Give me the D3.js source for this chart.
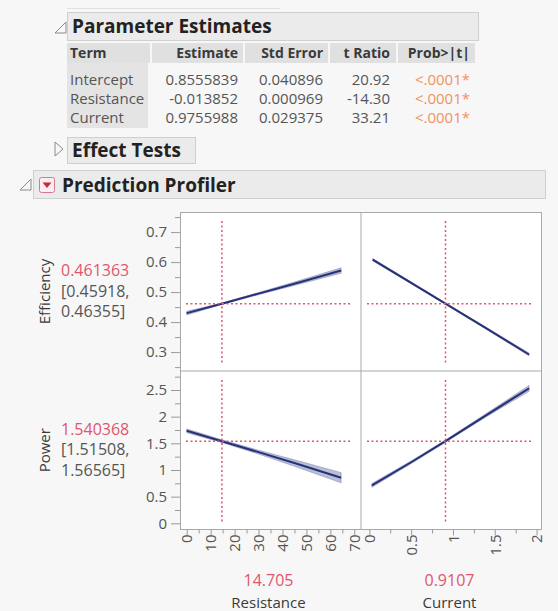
<!DOCTYPE html>
<html>
<head>
<meta charset="utf-8">
<script src="https://cdn.jsdelivr.net/npm/d3@7"></script>
<style>
  body { margin: 0; background: #f7f7f7; }
  svg { display: block; font-family: "Open Sans", "Noto Sans", sans-serif; }
</style>
</head>
<body>
<svg id="chart" width="558" height="611"></svg>
<script>
// ---- Parameter Estimates table ----
const tableHeaders = ["Term", "Estimate", "Std Error", "t Ratio", "Prob>|t|"];
const terms = ["Intercept", "Resistance", "Current"];
const estimates = ["0.8555839", "-0.013852", "0.9755988"];
const stdErrors = ["0.040896", "0.000969", "0.029375"];
const tRatios = ["20.92", "-14.30", "33.21"];
const probs = ["<.0001*", "<.0001*", "<.0001*"];

// ---- Prediction Profiler ----
const factors = ["Resistance", "Current"];
const factorSettings = [14.705, 0.9107];
const factorDomains = [[-2.8, 72.8], [-0.1, 2.065]];
const factorTicks = [[0, 10, 20, 30, 40, 50, 60, 70], [0, 0.5, 1, 1.5, 2]];
const factorMinorTicks = [[5, 15, 25, 35, 45, 55, 65], [0.25, 0.75, 1.25, 1.75]];

const responses = ["Efficiency", "Power"];
const predicted = ["0.461363", "1.540368"];
const ciLower = ["[0.45918,", "[1.51508,"];
const ciUpper = ["0.46355]", "1.56565]"];
const responseDomains = [[0.237, 0.767], [-0.116, 2.856]];
const responseTicks = [[0.3, 0.4, 0.5, 0.6, 0.7], [0, 0.5, 1, 1.5, 2, 2.5]];
const responseTickLabels = [["0.3", "0.4", "0.5", "0.6", "0.7"], ["0", "0.5", "1", "1.5", "2", "2.5"]];
const responseMinorTicks = [[0.25, 0.35, 0.45, 0.55, 0.65, 0.75],
                            [0.25, 0.75, 1.25, 1.75, 2.25, 2.75]];

// profile traces: [factor value, predicted response, confidence half-width]
const effVsResistance = [[0, 0.430, 0.006], [14.705, 0.4614, 0.0022], [30, 0.495, 0.0035], [45, 0.528, 0.0055], [64.5, 0.572, 0.009]];
const effVsCurrent = [[0.04, 0.608, 0.004], [0.5, 0.531, 0.003], [0.9107, 0.4614, 0.0022], [1.4, 0.379, 0.003], [1.91, 0.292, 0.0045]];
const powVsResistance = [[0, 1.735, 0.035], [14.705, 1.540, 0.025], [30, 1.335, 0.035], [45, 1.13, 0.06], [64.5, 0.855, 0.095]];
const powVsCurrent = [[0.03, 0.71, 0.035], [0.5, 1.145, 0.025], [0.9107, 1.540, 0.02], [1.4, 2.03, 0.03], [1.91, 2.53, 0.055]];
const traces = [[effVsResistance, effVsCurrent], [powVsResistance, powVsCurrent]];

const svg = d3.select("#chart");
const textDark = "#3a3a3a", textGrey = "#555", red = "#e0566c", orange = "#f0935f";

// disclosure icons
function openIcon(x, y) {
  svg.append("path").attr("d", `M${x + 11},${y} L${x + 11},${y + 11} L${x},${y + 11} Z`)
    .attr("fill", "none").attr("stroke", "#8a8a8a").attr("stroke-width", 1);
}
function closedIcon(x, y) {
  svg.append("path").attr("d", `M${x},${y} L${x + 8},${y + 7} L${x},${y + 14} Z`)
    .attr("fill", "none").attr("stroke", "#8a8a8a").attr("stroke-width", 1);
}
function outlineBar(x0, x1, y0, y1) {
  svg.append("rect").attr("x", x0 + 0.5).attr("y", y0 + 0.5).attr("width", x1 - x0).attr("height", y1 - y0)
    .attr("fill", "#ebebeb").attr("stroke", "#cfcfcf");
}

// faint rule at the very top
svg.append("line").attr("x1", 67).attr("x2", 280).attr("y1", 8.5).attr("y2", 8.5).attr("stroke", "#e2e2e2");

// Parameter Estimates header
openIcon(55, 22);
outlineBar(67, 478, 12, 40);
svg.append("text").attr("x", 72).attr("y", 26).attr("dy", "0.35em")
  .attr("font-size", 19).attr("font-weight", 700).attr("fill", "#222").text("Parameter Estimates");

// table
const colCells = [[67, 150], [152, 243], [245, 328], [330, 396], [398, 475]];
const colText = [{x: 70, anchor: "start"}, {x: 238, anchor: "end"}, {x: 323, anchor: "end"},
                 {x: 390, anchor: "end"}, {x: 470, anchor: "end"}];
const headerY = 53, rowY = [80, 99, 118];

svg.append("rect").attr("x", 67).attr("y", 63).attr("width", 81).attr("height", 65).attr("fill", "#e4e4e4");
svg.selectAll("rect.hcell").data(colCells).join("rect").attr("class", "hcell")
  .attr("x", d => d[0]).attr("y", 43).attr("width", d => d[1] - d[0]).attr("height", 20).attr("fill", "#e0e0e0");
svg.selectAll("text.hdr").data(tableHeaders).join("text").attr("class", "hdr")
  .attr("x", (d, i) => colText[i].x).attr("y", headerY).attr("dy", "0.35em")
  .attr("text-anchor", (d, i) => colText[i].anchor)
  .attr("font-size", 14).attr("font-weight", 700).attr("fill", textDark).text(d => d);

const columns = [terms, estimates, stdErrors, tRatios, probs];
columns.forEach((col, ci) => {
  svg.selectAll(null).data(col).join("text")
    .attr("x", colText[ci].x).attr("y", (d, i) => rowY[i]).attr("dy", "0.35em")
    .attr("text-anchor", colText[ci].anchor)
    .attr("font-size", 15).attr("fill", ci === 4 ? orange : textGrey).text(d => d);
});

// Effect Tests header
closedIcon(55, 142);
outlineBar(67, 195, 137, 163);
svg.append("text").attr("x", 72).attr("y", 150).attr("dy", "0.35em")
  .attr("font-size", 19).attr("font-weight", 700).attr("fill", "#222").text("Effect Tests");

// Prediction Profiler header
openIcon(20, 179);
outlineBar(33, 545, 170, 198);
svg.append("rect").attr("x", 39.5).attr("y", 177.5).attr("width", 15).attr("height", 15).attr("rx", 2)
  .attr("fill", "#fbeef0").attr("stroke", "#d9788a");
svg.append("path").attr("d", "M42.5,182.5 L51.5,182.5 L47,188 Z").attr("fill", "#c8283e");
svg.append("text").attr("x", 62).attr("y", 185).attr("dy", "0.35em")
  .attr("font-size", 19).attr("font-weight", 700).attr("fill", "#222").text("Prediction Profiler");

// ---- profiler grid ----
const colX = [[180, 361], [361, 542]];
const rowYr = [[212, 371], [371, 529.5]];
const xScales = factors.map((f, i) => d3.scaleLinear().domain(factorDomains[i]).range(colX[i]));
const yScales = responses.map((r, i) => d3.scaleLinear().domain(responseDomains[i]).range([rowYr[i][1], rowYr[i][0]]));

for (let r = 0; r < 2; r++) {
  for (let c = 0; c < 2; c++) {
    const xs = xScales[c], ys = yScales[r];
    const [x0, x1] = colX[c], [y0, y1] = rowYr[r];
    const g = svg.append("g");
    g.append("rect").attr("x", x0).attr("y", y0).attr("width", x1 - x0).attr("height", y1 - y0).attr("fill", "#fff");

    // confidence band + prediction trace
    const tr = traces[r][c];
    g.append("path").datum(tr)
      .attr("d", d3.area().x(d => xs(d[0])).y0(d => ys(d[1] - d[2])).y1(d => ys(d[1] + d[2])))
      .attr("fill", "#9aa2c2").attr("fill-opacity", 0.7).attr("stroke", "#8a92b2").attr("stroke-width", 0.6);
    g.append("path").datum(tr)
      .attr("d", d3.line().x(d => xs(d[0])).y(d => ys(d[1])))
      .attr("fill", "none").attr("stroke", "#27307a").attr("stroke-width", 2);

    // current-setting crosshair
    g.append("line").attr("x1", xs(factorSettings[c])).attr("x2", xs(factorSettings[c]))
      .attr("y1", y0 + 9).attr("y2", y1 - 8)
      .attr("stroke", red).attr("stroke-width", 1.5).attr("stroke-dasharray", "2,2.5");
    g.append("line").attr("x1", x0 + 6).attr("x2", x1 - 9)
      .attr("y1", ys(+predicted[r])).attr("y2", ys(+predicted[r]))
      .attr("stroke", red).attr("stroke-width", 1.5).attr("stroke-dasharray", "2,2.5");
  }
}
// panel frames
svg.append("rect").attr("x", 180.5).attr("y", 212.5).attr("width", 361).attr("height", 317)
  .attr("fill", "none").attr("stroke", "#a9a9a9");
svg.append("line").attr("x1", 361).attr("x2", 361).attr("y1", 212).attr("y2", 530).attr("stroke", "#a9a9a9");
svg.append("line").attr("x1", 180).attr("x2", 542).attr("y1", 371).attr("y2", 371).attr("stroke", "#a9a9a9");

// y axes
responses.forEach((resp, i) => {
  const ys = yScales[i];
  const ax = svg.append("g").attr("transform", "translate(180,0)")
    .call(d3.axisLeft(ys).tickValues(responseTicks[i]).tickSize(9).tickPadding(4)
      .tickFormat((d, k) => responseTickLabels[i][k]));
  ax.select(".domain").remove();
  ax.selectAll("line").attr("stroke", "#9a9a9a");
  ax.selectAll("text").attr("font-size", 15).attr("fill", textGrey).attr("font-family", "Open Sans");
  const mx = svg.append("g").attr("transform", "translate(180,0)")
    .call(d3.axisLeft(ys).tickValues(responseMinorTicks[i].filter(v => ys(v) >= rowYr[i][0] && ys(v) <= rowYr[i][1])).tickSize(5).tickFormat(""));
  mx.select(".domain").remove();
  mx.selectAll("line").attr("stroke", "#9a9a9a");

  const cy = (rowYr[i][0] + rowYr[i][1]) / 2;
  svg.append("text").attr("transform", `translate(45,${cy}) rotate(-90)`).attr("text-anchor", "middle")
    .attr("dy", "0.35em").attr("font-size", 15).attr("fill", textDark).text(resp);
  const lines = [[predicted[i], red], [ciLower[i], textGrey], [ciUpper[i], textGrey]];
  lines.forEach((l, k) => {
    svg.append("text").attr("x", 61).attr("y", cy - 21 + k * 20.5).attr("dy", "0.35em")
      .attr("font-size", 16).attr("fill", l[1]).text(l[0]);
  });
});

// x axes
factors.forEach((f, i) => {
  const xs = xScales[i];
  const ax = svg.append("g").attr("transform", "translate(0,529.5)")
    .call(d3.axisBottom(xs).tickValues(factorTicks[i]).tickSize(6).tickFormat(d3.format("")));
  ax.select(".domain").remove();
  ax.selectAll("line").attr("stroke", "#9a9a9a");
  ax.selectAll("text").attr("font-size", 15).attr("fill", textGrey).attr("font-family", "Open Sans")
    .attr("transform", "rotate(-90)").attr("text-anchor", "end")
    .attr("x", -5).attr("y", 0).attr("dy", "0.35em");
  const mx = svg.append("g").attr("transform", "translate(0,529.5)")
    .call(d3.axisBottom(xs).tickValues(factorMinorTicks[i]).tickSize(4).tickFormat(""));
  mx.select(".domain").remove();
  mx.selectAll("line").attr("stroke", "#9a9a9a");

  const cx = (colX[i][0] + colX[i][1]) / 2 - 2;
  svg.append("text").attr("x", cx).attr("y", 580).attr("dy", "0.35em").attr("text-anchor", "middle")
    .attr("font-size", 16).attr("fill", red).text(d3.format("")(factorSettings[i]));
  svg.append("text").attr("x", cx).attr("y", 603).attr("dy", "0.35em").attr("text-anchor", "middle")
    .attr("font-size", 15).attr("fill", textDark).text(f);
});
</script>
</body>
</html>
